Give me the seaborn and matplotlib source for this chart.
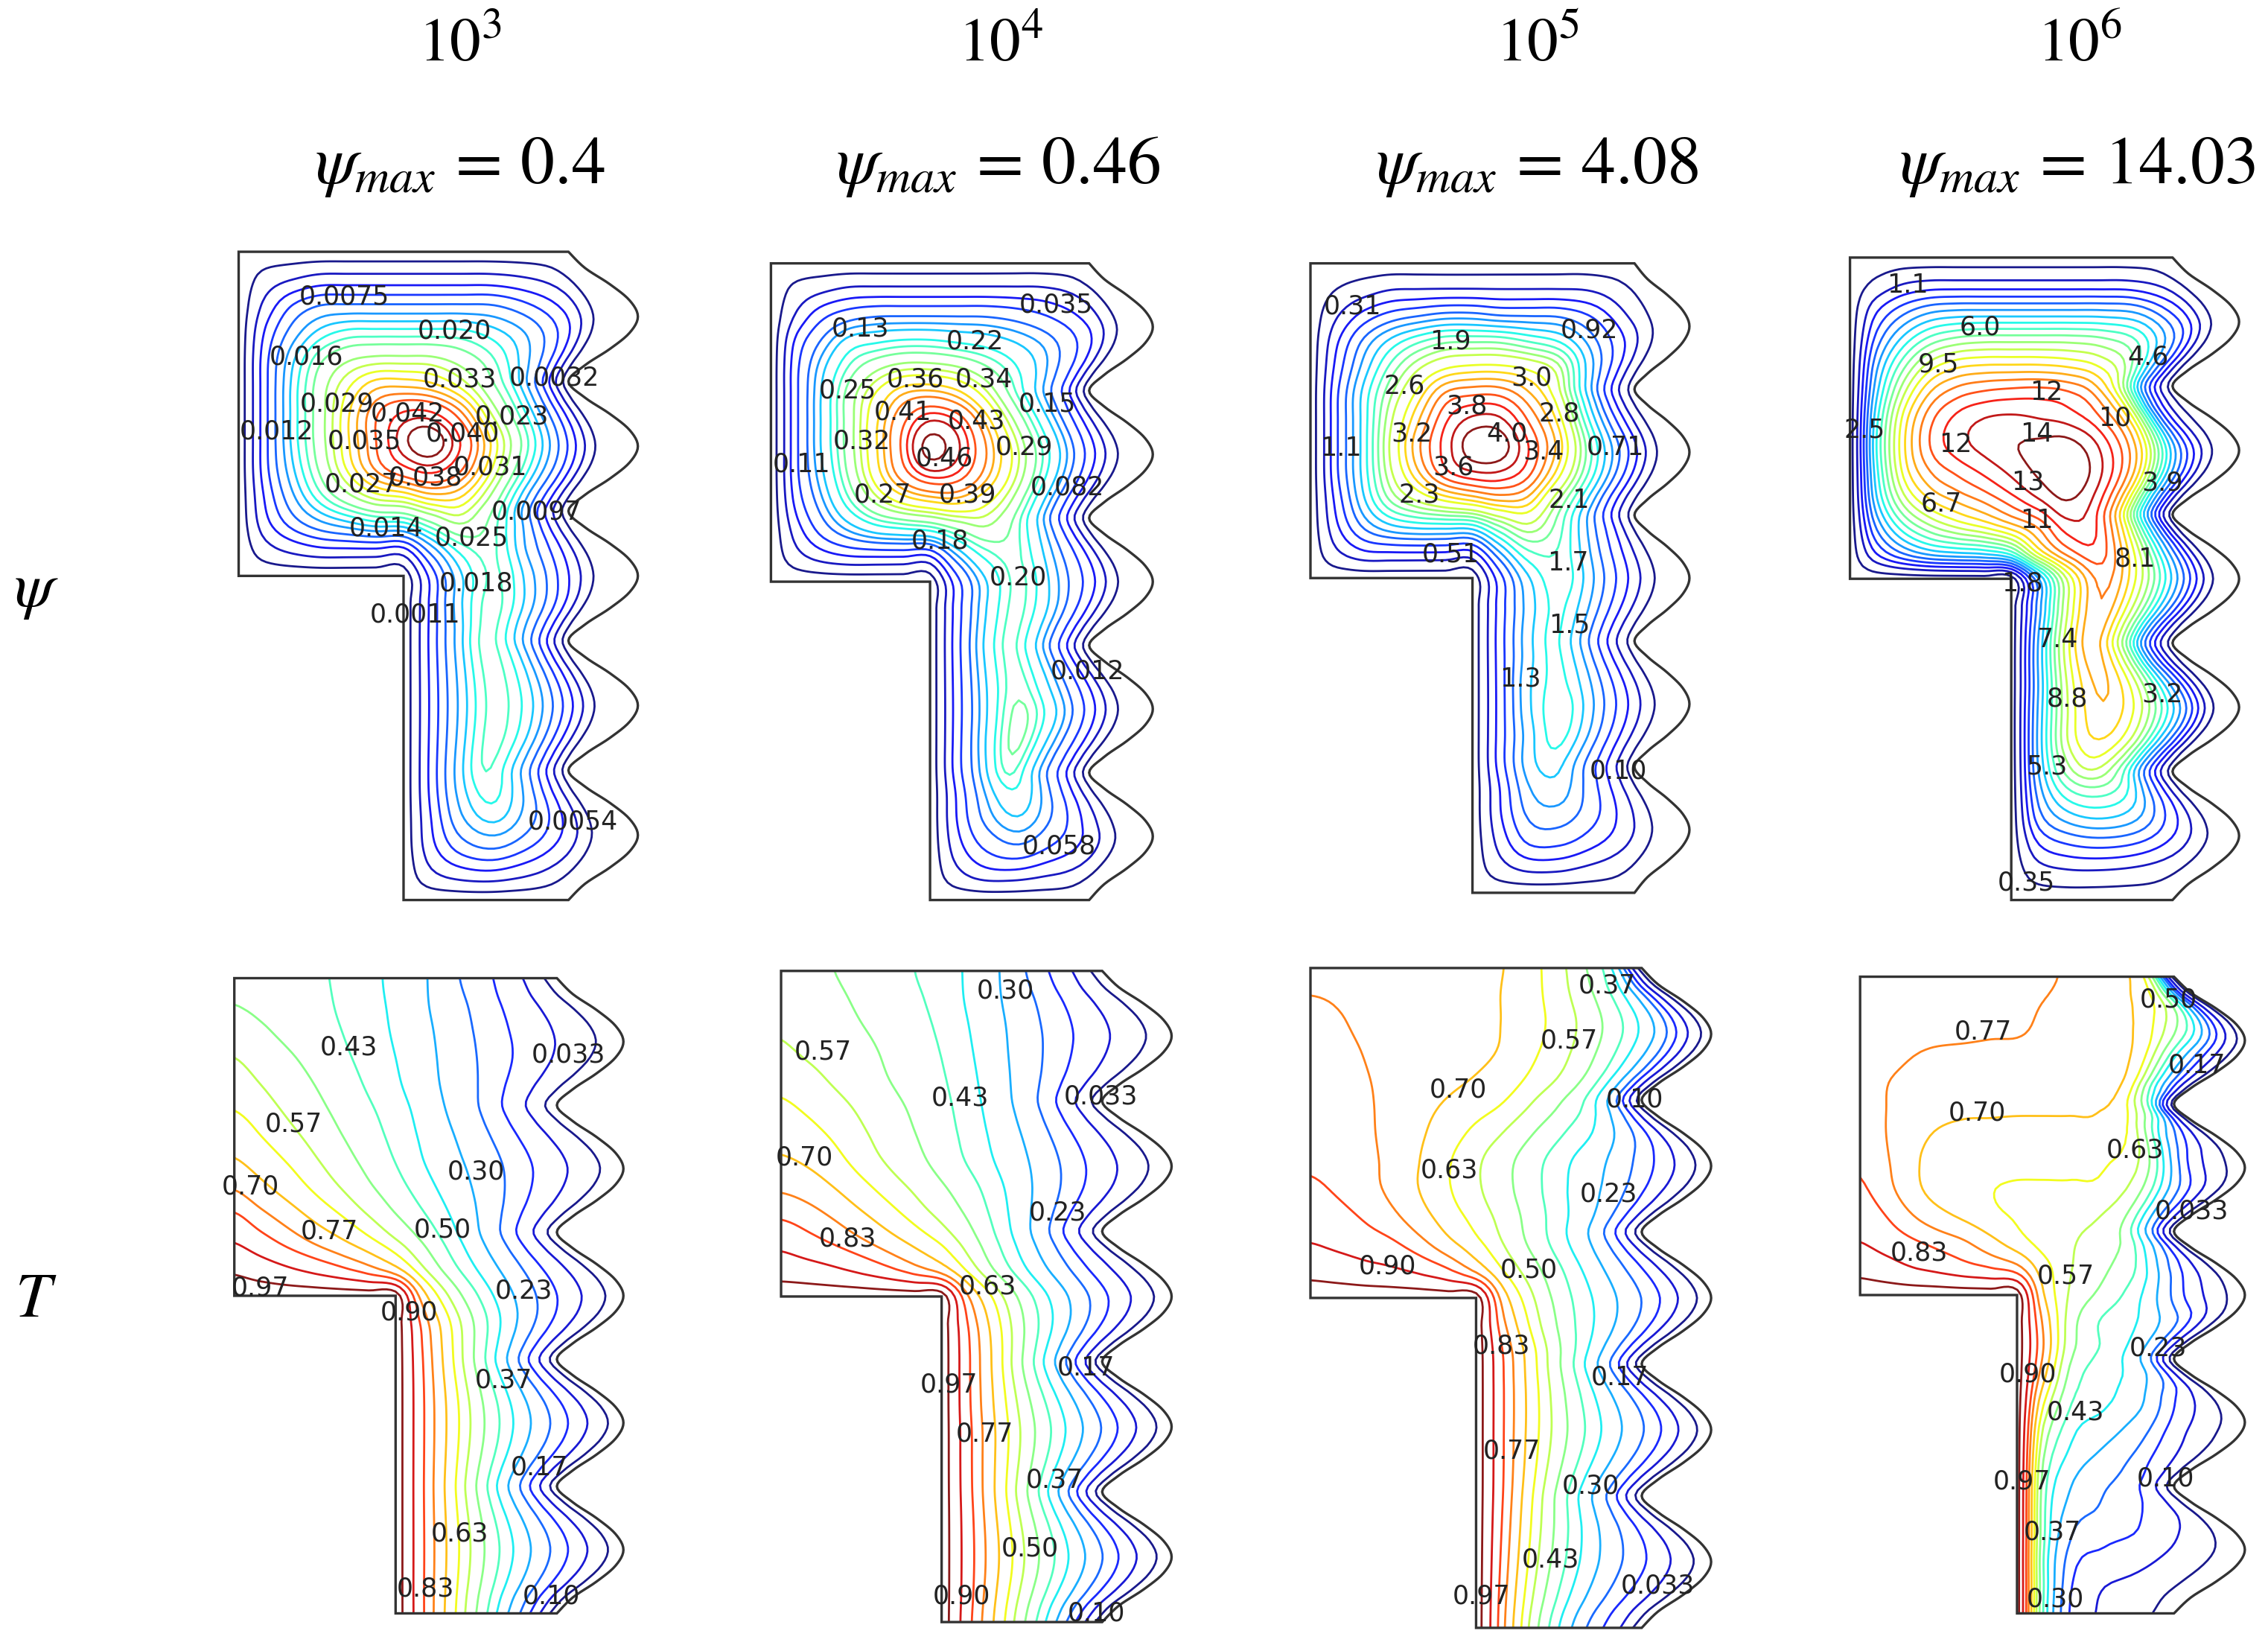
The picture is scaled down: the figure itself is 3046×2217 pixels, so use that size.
import matplotlib
matplotlib.use("Agg")
import matplotlib.pyplot as plt
import numpy as np
import seaborn as sns
from matplotlib.patches import Polygon

# Values. Tables are on a grid of 13 columns x 25 rows across the cavity,
# upper part is rows 0-12 (all columns), lower part rows 13-24 (columns 6-12 only, right of the notch)

RA_LABELS = ["10^{3}", "10^{4}", "10^{5}", "10^{6}"]
PSI_MAX = ["0.4", "0.46", "4.08", "14.03"]

WALL_PERIOD = [0, .05, .125, .185, .21, .185, .125, .05]

# stream function, 10^3 (x 1e-3)
PSI1_LEVELS = [.0011, .0032, .0054, .0075, .0097, .012, .014, .016, .018, .020, .023, .025, .027, .029, .031, .033, .035, .038, .040, .042]
PSI1_UPPER = [
    [0]*13,
    [0,2,3,4,4,4,4,4,4,4,3.5,2.5,0],
    [0,4,8,10,10,10,10,10,10,10,8,5,0],
    [0,6,11,15,17,17,17,17,17,15,12,7,0],
    [0,7,14,20,23,24,24,24,22,19,14,8,0],
    [0,7,15,22,27,31,31,30,27,22,16,8,0],
    [0,7,15,22,29,35,39,39,34,25,17,8,0],
    [0,7,15,22,29,35,42,45,38,28,18,8,0],
    [0,7,14,21,28,34,38,40,36,27,17,8,0],
    [0,6,12,18,23,27,28,31,30,24,15,7,0],
    [0,5,9,12,14,16,16,20,24,20,14,6,0],
    [0,2.5,4,5,5,5,4,11,17,19,12,6,0],
    [0,0,0,0,0,0,0,6,14,19,13,6,0]]
PSI1_LOWER = [
    [0,6,14,19.5,14,7,0],[0,6,13,19.5,14,7,0],[0,6,13,19.5,15,7,0],[0,6,13,19.5,15,7,0],[0,6,13,19.5,15,7,0],
    [0,6,13,19.5,15,7,0],[0,6,13,19,14,7,0],[0,6,13,17.5,13,6,0],[0,5.5,12,15,11,5.5,0],[0,5,9,10.5,8,4.5,0],
    [0,3,4.5,5,4,2.5,0],[0]*7]
PSI1_TEXT = ["0.0075","0.016","0.020","0.033","0.0032","0.029","0.042","0.012","0.035","0.040","0.023","0.031","0.038","0.027","0.0097","0.014","0.025","0.018","0.0011","0.0054"]
PSI1_POS = [(238,205),(212,247),(314,229),(318,262),(383,261),(233,279),(282,286),(191,298),(252,305),(320,300),(354,288),(339,323),(294,330),(250,335),(371,354),(267,365),(326,372),(329,403),(287,425),(396,568)]

# stream function, 10^4 (x 1e-2)
PSI2_LEVELS = [.012,.035,.058,.082,.11,.13,.15,.18,.20,.22,.25,.27,.29,.32,.34,.36,.39,.41,.43,.46]
PSI2_UPPER = [
    [0]*13,
    [0,2,3,4,4,4,4,4,4,4,4,3,0],
    [0,4,8,10,11,11,11,11,11,10,8,5,0],
    [0,7,12,17,18,19,19,18,17,15,12,7,0],
    [0,8,15,21,25,27,27,26,23,19,14,8,0],
    [0,8,16,24,30,35,36,34,29,22,15,8,0],
    [0,8,16,24,32,39,44,42,34,25,16,7,0],
    [0,8,16,24,32,40,49,44,36,27,17,7,0],
    [0,8,15,23,31,38,42,41,35,27,17,7,0],
    [0,7,13,20,26,30,32,33,30,25,16,7,0],
    [0,5,10,14,17,18,19,22,25,22,15,7,0],
    [0,3,5,6,6,6,5,13,19,21,14,7,0],
    [0,0,0,0,0,0,0,7,15,21.5,14,7,0]]
PSI2_LOWER = [
    [0,7,15,21.5,15,7,0],[0,7,15,21.5,15,7,0],[0,7,15,21.5,15,7,0],[0,7,15,22,15,7,0],[0,7,15,24,16,7,0],
    [0,7,15,24,15,7,0],[0,7,14,22,14,7,0],[0,6,13,18,13,6,0],[0,6,12,15,11,5,0],[0,5,9,11,8,5,0],
    [0,3,5,5,4,3,0],[0]*7]
PSI2_TEXT = ["0.035","0.13","0.22","0.36","0.34","0.25","0.15","0.41","0.43","0.32","0.29","0.46","0.11","0.082","0.27","0.39","0.18","0.20","0.012","0.058"]
PSI2_POS = [(730,211),(595,227),(674,236),(633,262),(680,262),(586,270),(724,279),(624,285),(675,291),(596,305),(708,309),(653,317),(554,321),(738,337),(610,342),(669,342),(650,374),(704,399),(752,464),(732,585)]

# stream function, 10^5 (x 1e-1)
PSI3_LEVELS = [.10,.31,.51,.71,.92,1.1,1.3,1.5,1.7,1.9,2.1,2.3,2.6,2.8,3.0,3.2,3.4,3.6,3.8,4.0]
PSI3_UPPER = [
    [0]*13,
    [0,1,2,3,3,3,3,3,3,3,3,2,0],
    [0,3,6,8,9,10,10,9,9,9,7,3,0],
    [0,5,10,14,17,19,19,19,17,15,10,5,0],
    [0,6,12,18,23,26,27,27,26,23,13,6,0],
    [0,7,14,21,27,33,34,34,31,26,15,6,0],
    [0,7,14,23,30,36,39,39,34,28,15,6,0],
    [0,7,14,24,32,37,42,42,36,29,16,7,0],
    [0,7,14,23,30,36,38,38,35,27,16,7,0],
    [0,6,13,20,24,27,29,31,30,22,14,6,0],
    [0,5,10,13,14,14,14,19,23,19,12,6,0],
    [0,3,5,5,5,5,4,11,17,17,11,5,0],
    [0,0,0,0,0,0,0,6,13,17,11,5,0]]
PSI3_LOWER = [
    [0,6,12,16,11,5,0],[0,6,12,16,11,5,0],[0,6,12,16,11,5,0],[0,6,13,16,11,5,0],[0,6,13,17,11,5,0],
    [0,6,12,16.5,11,5,0],[0,6,12,14.5,10,5,0],[0,5,11,12.5,9,4.5,0],[0,5,10,10.5,8,4,0],[0,4,8,8,6,3.5,0],
    [0,2.5,4,4,3,2,0],[0]*7]
PSI3_TEXT = ["0.31","0.92","1.9","3.0","2.6","3.8","2.8","3.2","4.0","3.4","1.1","0.71","3.6","2.3","2.1","0.51","1.7","1.5","1.3","0.10"]
PSI3_POS = [(935,212),(1099,228),(1003,236),(1059,261),(971,267),(1014,281),(1078,286),(976,300),(1042,300),(1067,312),(927,310),(1117,309),(1005,323),(981,342),(1085,346),(1003,383),(1084,389),(1085,432),(1051,469),(1119,533)]

# stream function, 10^6 (x 1e-1)
PSI4_LEVELS = [.35,1.1,1.8,2.5,3.2,3.9,4.6,5.3,6.0,6.7,7.4,8.1,8.8,9.5,10.2,10.9,11.6,12.3,13.0,13.7]
PSI4_UPPER = [
    [0]*13,
    [0,5,11,13,13,13,13,13,13,13,13,10,0],
    [0,18,30,38,40,40,40,40,40,40,38,22,0],
    [0,28,48,62,68,70,70,70,70,68,60,33,0],
    [0,38,65,85,93,95,95,95,93,88,75,35,0],
    [0,45,80,103,113,117,119,120,118,110,85,28,0],
    [0,52,92,115,126,131,132,130,127,118,95,22,0],
    [0,55,95,118,128,133,137,139,141,128,100,32,0],
    [0,52,92,110,118,125,132,139,145,132,103,38,0],
    [0,47,80,97,105,112,121,131,139,130,100,40,0],
    [0,35,60,75,85,92,102,110,128,127,97,42,0],
    [0,20,35,45,48,50,58,95,115,122,90,38,0],
    [0,0,0,0,0,0,0,35,85,115,85,38,0]]
PSI4_LOWER = [
    [0,35,83,112,82,36,0],[0,38,83,110,80,30,0],[0,40,85,108,82,30,0],[0,40,85,106,85,38,0],[0,42,85,103,85,42,0],
    [0,42,84,97,83,38,0],[0,40,72,86,70,30,0],[0,36,58,63,55,26,0],[0,30,42,46,40,20,0],[0,18,24,26,23,14,0],
    [0,7,9,9,8,6,0],[0]*7]
PSI4_TEXT = ["1.1","6.0","9.5","4.6","12","10","2.5","14","12","13","3.9","11","6.7","8.1","1.8","7.4","8.8","3.2","5.3","0.35"]
PSI4_POS = [(1319,197),(1369,226),(1340,252),(1485,247),(1415,271),(1462,289),(1289,297),(1408,300),(1352,307),(1402,333),(1495,334),(1408,360),(1342,348),(1476,386),(1398,403),(1422,442),(1429,483),(1495,480),(1415,530),(1401,610)]

# temperature (x 1e-2), same levels in all four
T_LEVELS = [.033,.10,.17,.23,.30,.37,.43,.50,.57,.63,.70,.77,.83,.90,.97]
T1_UPPER = [
    [49,47,46,44,42,39,35,31,25,20,15,8,0],
    [50,48,47,45,42,39,36,31,26,21,15,8,0],
    [54,51,48,46,43,40,36,32,27,21,15,8,0],
    [57,54,51,48,44,41,37,33,27,22,16,8,0],
    [60,57,53,50,46,42,38,33,28,23,16,8,0],
    [63,60,56,52,48,44,40,35,29,24,17,9,0],
    [67,63,59,55,50,46,41,36,31,25,18,9,0],
    [71,67,63,58,53,48,43,37,32,27,19,10,0],
    [77,72,67,62,57,51,46,40,34,28,20,10,0],
    [84,79,74,68,63,57,50,44,37,30,21,11,0],
    [90,86,81,76,71,65,58,50,41,32,23,12,0],
    [96,94,91,88,84,79,71,57,45,35,25,13,0],
    [100,100,100,100,100,100,100,73,55,40,27,14,0]]
T1_LOWER = [
    [100,82,63,46,30,15,0],[100,83,65,48,32,16,0],[100,84,66,49,33,16,0],[100,84,67,50,33,17,0],[100,84,67,50,33,17,0],
    [100,84,67,50,33,17,0],[100,84,67,50,33,17,0],[100,84,67,50,33,17,0],[100,84,67,50,33,17,0],[100,84,67,50,33,17,0],
    [100,84,67,50,33,17,0],[100,84,67,50,33,17,0]]
T1_TEXT = ["0.43","0.033","0.57","0.30","0.70","0.50","0.77","0.23","0.97","0.90","0.37","0.17","0.63","0.83","0.10"]
T1_POS = [(241,724),(393,729),(203,777),(329,810),(173,820),(306,850),(228,851),(362,892),(180,890),(283,907),(348,954),(373,1014),(318,1060),(294,1098),(381,1103)]

T2_UPPER = [
    [52,51,50,48,46,43,40,36,31,24,17,9,0],
    [54,53,51,49,47,44,41,36,31,25,18,9,0],
    [56,54,52,50,48,45,42,37,32,25,18,9,0],
    [58,56,54,52,49,46,43,38,32,26,18,9,0],
    [61,59,56,53,50,47,44,39,33,27,19,10,0],
    [64,62,59,56,52,49,45,40,34,28,20,10,0],
    [67,65,62,58,54,50,46,41,35,29,20,10,0],
    [71,69,65,60,56,52,47,42,36,30,21,10,0],
    [76,74,70,65,60,56,51,46,39,31,22,11,0],
    [82,80,76,71,66,60,55,49,41,32,23,11,0],
    [88,85,82,78,73,68,62,54,44,34,24,12,0],
    [94,93,91,88,84,78,72,60,47,36,25,12,0],
    [100,100,100,100,100,100,100,78,61,44,30,15,0]]
T2_LOWER = [
    [100,83,65,48,33,16,0],[100,84,68,50,34,17,0],[100,84,68,50,34,17,0],[100,84,68,51,35,17,0],[100,85,69,52,36,18,0],
    [100,85,69,53,36,18,0],[100,85,70,53,37,18,0],[100,86,70,54,37,18,0],[100,86,71,54,37,18,0],[100,86,71,54,37,18,0],
    [100,86,70,53,36,18,0],[100,85,69,52,35,17,0]]
T2_TEXT = ["0.30","0.57","0.43","0.033","0.70","0.23","0.83","0.63","0.17","0.97","0.77","0.37","0.50","0.90","0.10"]
T2_POS = [(695,685),(569,727),(664,759),(761,758),(556,800),(731,838),(586,856),(683,889),(751,945),(656,957),(681,991),(729,1023),(712,1070),(665,1103),(758,1115)]

T3_UPPER = [
    [76,76,76,75,74,73,71,70,65,59,50,35,0],
    [77,76.5,76,75,74,73,72,70,65,59,50,34,0],
    [79,77.5,76,75,74,73,72,70,65,60,50,33,0],
    [79,78,77,75,74,73,72,70,64,59,48,30,0],
    [80,79,77,76,74,72,70,67,62,57,48,28,0],
    [81,80,78,75,72,69,66,63,57,50,42,26,0],
    [81,80,78,75,71,66,61,57,50,43,36,22,0],
    [82,81,79,75,70,63,58,52,45,37,30,17,0],
    [84,82,79,75,69,63,58,52,45,37,30,17,0],
    [87,85,82,78,72,66,60,55,47,39,32,19,0],
    [90,88,86,84,79,70,65,56,48,39,31,18,0],
    [95,94,92,91,88,85,73,62,53,43,31,18,0],
    [100,100,100,100,100,100,100,72,57,44,33,20,0]]
T3_LOWER = [
    [100,78,60,46,35,21,0],[100,83,66,51,36,21,0],[100,83,66,51,36,21,0],[100,83,66,50,35,21,0],[100,83,65,50,35,20,0],
    [100,83,65,49,34,20,0],[100,83,64,48,33,20,0],[100,82,62,46,31,18,0],[100,81,60,43,28,16,0],[100,80,58,41,26,15,0],
    [100,79,56,39,25,14,0],[100,78,55,37,23,13,0]]
T3_TEXT = ["0.37","0.57","0.70","0.10","0.63","0.23","0.90","0.50","0.83","0.17","0.77","0.30","0.43","0.033","0.97"]
T3_POS = [(1111,681),(1085,719),(1008,753),(1130,760),(1002,809),(1112,825),(959,875),(1057,878),(1038,930),(1120,952),(1045,1003),(1100,1027),(1072,1078),(1146,1096),(1024,1103)]

T4_UPPER = [
    [80,80,80,79,79,78,78,78,76,74,72,58,0],
    [80,80,80,79,79,78,78,77,75,73,71,58,0],
    [80,80,80,80,79,78,78,76,75,73,69,45,0],
    [80,79,77,75,75,75,75,75,74,73,69,28,0],
    [80,77,75,74,74,73,73,73,72,72,70,30,0],
    [80,77,74,72,71,71,71,71,71,71,67,49,0],
    [81,77,72,69,68,68,67,67,67,67,62,23,0],
    [82,78,71,67,66,65,65,65,65,64,58,13,0],
    [84,79,72,66,63,63,62,62,62,62,54,21,0],
    [87,83,77,72,68,64,62,60,59,58,51,25,0],
    [90,87,84,81,78,72,65,60,58,54,50,30,0],
    [95,93,90,88,85,83,80,66,57,52,44,18,0],
    [100,100,100,100,100,100,100,69,55,48,37,13,0]]
T4_LOWER = [
    [100,76,52,41,38,25,0],[100,78,52,44,38,26,0],[100,73,47,39,37,27,0],[100,63,42,39,33,14,0],[100,54,38,34,26,9,0],
    [100,48,35,29,23,11,0],[100,44,31,25,22,15,0],[100,42,27,23,19,14,0],[100,42,22,19,17,9,0],[100,40,18,15,12,6,0],
    [100,41,16,10,8,4,0],[100,43,17,10,7,4,0]]
T4_TEXT = ["0.50","0.77","0.17","0.70","0.63","0.033","0.83","0.57","0.23","0.90","0.43","0.97","0.10","0.37","0.30"]
T4_POS = [(1499,691),(1371,713),(1519,736),(1367,769),(1476,795),(1515,837),(1327,866),(1428,882),(1492,932),(1402,950),(1435,976),(1398,1024),(1497,1022),(1419,1059),(1421,1105)]

# panel boxes in the 1568x1141 view: left, flat right wall, wave peak, top, bottom
BOXES_PSI = [(165,393,441,174,622),(533,753,797,182,622),(906,1130,1168,182,617),(1279,1502,1548,178,622)]
BOXES_T = [(162,385,431,676,1115),(540,762,810,671,1121),(906,1135,1183,669,1125),(1286,1503,1552,675,1115)]
VIEW_W, VIEW_H = 1568, 1141


def refine(a, k=6):
    # catmull-rom along first axis, only so the contour lines are not kinked at table cells
    a = np.asarray(a, float)
    n = a.shape[0]
    out = []
    for i in range(n - 1):
        p0, p1, p2, p3 = a[max(i-1, 0)], a[i], a[i+1], a[min(i+2, n-1)]
        for t in np.arange(k) / k:
            out.append(0.5*(2*p1 + (p2-p0)*t + (2*p0-5*p1+4*p2-p3)*t**2 + (3*p1-p0-3*p2+p3)*t**3))
    out.append(a[-1])
    return np.array(out)


def build(upper, lower, fill, soften):
    low = np.hstack([np.full((len(lower), 6), float(fill)), np.array(lower, float)])
    z = np.vstack([np.array(upper, float), low])
    # takes the by-eye wobble out of the table, the walls stay as they are
    s = z.copy()
    s[1:-1, 1:-1] = z[1:-1, 1:-1]/2 + (z[:-2, 1:-1] + z[2:, 1:-1] + z[1:-1, :-2] + z[1:-1, 2:])/8
    out = z + soften*(s - z)
    out[12:, :7] = z[12:, :7]
    return refine(refine(out).T).T


def draw_panel(fig, box, z, levels, gain, power, lw=2.0):
    left, flat, peak, top, bottom = box
    w, h = flat - left, bottom - top
    pad = 0.012
    ax = fig.add_axes([left/VIEW_W, 1 - (bottom + pad*h)/VIEW_H, 1.3*w/VIEW_W, (1 + pad)*h/VIEW_H])
    ax.set_xlim(0, 1.3)
    ax.set_ylim(1 + pad, 0)
    ax.patch.set_alpha(0)
    ax.set_frame_on(False)
    ax.set_yticks([])
    ax.set_xticks([0.2, 0.6, 1.0])
    ax.tick_params(axis="x", length=2, width=3, color="#777777", labelbottom=False)

    # wavy right wall
    wall_v = np.linspace(0, 1, 41)
    bulge = np.r_[np.tile(WALL_PERIOD, 5), 0] * ((peak - flat) / w / 0.21)
    wall_vf = refine(wall_v)
    wall_xf = refine(bulge)

    nv, nu = z.shape
    u = np.linspace(0, 1, nu)
    v = np.linspace(0, 1, nv)
    U, V = np.meshgrid(u, v)
    shift = np.interp(v, wall_vf, wall_xf)[:, None]
    X = U + shift * gain * np.clip((U - 0.5) / 0.5, 0, 1) ** power

    outline = np.vstack([[0.5, 1], [0.5, 0.5], [0, 0.5], [0, 0], [1, 0],
                         np.c_[1 + wall_xf, wall_vf], [1, 1]])
    clip = Polygon(outline, closed=True, transform=ax.transData, fill=False, edgecolor="none")
    ax.add_patch(clip)

    colors = plt.get_cmap("jet")(np.linspace(0, 1, len(levels)))
    cs = ax.contour(X, V, z, levels=levels, colors=colors, linewidths=lw, alpha=0.9)
    cs.set_clip_path(clip)
    ax.add_patch(Polygon(outline, closed=True, fill=False, edgecolor="#333333", linewidth=2.4,
                         clip_on=False, zorder=5))
    return ax


sns.set_theme(style="white")
plt.rcParams["mathtext.fontset"] = "stix"
plt.rcParams["font.family"] = ["DejaVu Sans"]

fig = plt.figure(figsize=(30.46, 22.17), dpi=100)

psi_sets = [(PSI1_UPPER, PSI1_LOWER, PSI1_LEVELS, 1e-3, PSI1_TEXT, PSI1_POS, 0.5),
            (PSI2_UPPER, PSI2_LOWER, PSI2_LEVELS, 1e-2, PSI2_TEXT, PSI2_POS, 0.6),
            (PSI3_UPPER, PSI3_LOWER, PSI3_LEVELS, 1e-1, PSI3_TEXT, PSI3_POS, 0.55),
            (PSI4_UPPER, PSI4_LOWER, PSI4_LEVELS, 1e-1, PSI4_TEXT, PSI4_POS, 0.7)]
for box, (up, lo, lev, unit, txt, pos, gain) in zip(BOXES_PSI, psi_sets):
    draw_panel(fig, box, build(up, lo, 0, 0.5) * unit, lev, gain, 2)
    for s, (x, y) in zip(txt, pos):
        fig.text(x/VIEW_W, 1 - y/VIEW_H, s, fontsize=25, color="#222222", ha="center", va="center", zorder=10)

t_sets = [(T1_UPPER, T1_LOWER, T1_TEXT, T1_POS, 1.0), (T2_UPPER, T2_LOWER, T2_TEXT, T2_POS, 1.0),
          (T3_UPPER, T3_LOWER, T3_TEXT, T3_POS, 1.0), (T4_UPPER, T4_LOWER, T4_TEXT, T4_POS, 0.6)]
for box, (up, lo, txt, pos, soft) in zip(BOXES_T, t_sets):
    draw_panel(fig, box, build(up, lo, 100, soft) * 1e-2, T_LEVELS, 1.0, 3)
    for s, (x, y) in zip(txt, pos):
        fig.text(x/VIEW_W, 1 - y/VIEW_H, s, fontsize=25, color="#222222", ha="center", va="center", zorder=10)

# column and row headings
for x, s in zip([318, 692, 1063, 1438], RA_LABELS):
    fig.text(x/VIEW_W, 1 - 30/VIEW_H, "$" + s + "$", fontsize=60, color="black", ha="center", va="center")
for x, s in zip([318, 690, 1063, 1436], PSI_MAX):
    fig.text(x/VIEW_W, 1 - 114/VIEW_H, r"$\psi_{max}\,=\," + s + "$",
             fontsize=66, color="black", ha="center", va="center")
fig.text(25/VIEW_W, 1 - 408/VIEW_H, r"$\psi$", fontsize=62, color="black", ha="center", va="center")
fig.text(25/VIEW_W, 1 - 898/VIEW_H, r"$T$", fontsize=62, color="black", ha="center", va="center")

fig.savefig("out.png", dpi=100, facecolor="white")
